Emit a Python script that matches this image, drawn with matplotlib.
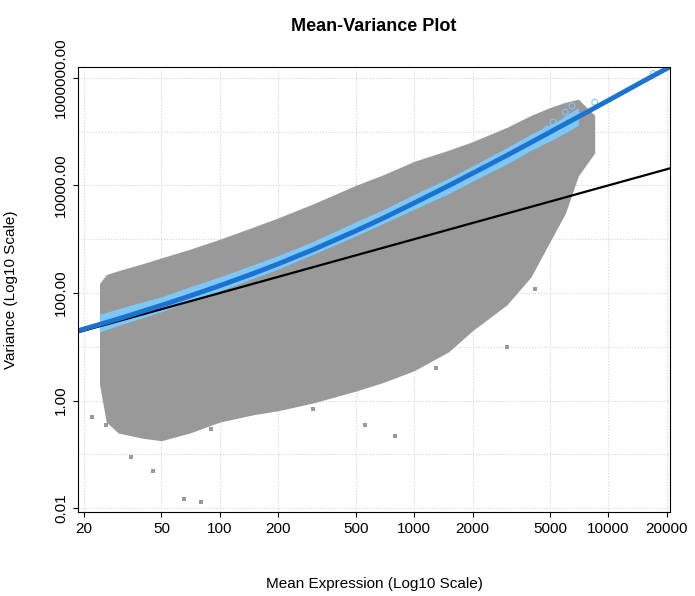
import numpy as np
import matplotlib
matplotlib.use("Agg")
import matplotlib.pyplot as plt

plt.rcParams['font.family'] = ['Liberation Sans', 'DejaVu Sans']

# gray cloud envelope
cloud_x = [24, 26, 30, 40, 50, 70, 100, 150, 200, 300, 500, 700, 1000, 1500, 2000, 3000, 4000, 5000, 6000, 7000, 8500]
cloud_lo = [2.0, 0.4, 0.25, 0.2, 0.18, 0.25, 0.4, 0.55, 0.65, 0.9, 1.5, 2.2, 3.6, 8, 20, 60, 200, 900, 3000, 15000, 40000]
cloud_hi = [150, 220, 260, 350, 450, 650, 1000, 1700, 2500, 4500, 10000, 16000, 28000, 45000, 65000, 120000, 200000, 280000, 350000, 400000, 200000]

# scattered low outliers
out_x = [65, 80, 35, 45, 800, 560, 110, 150, 28, 40, 90, 300, 1300, 3000, 4200, 22, 26]
out_y = [0.015, 0.013, 0.09, 0.05, 0.22, 0.35, 0.7, 0.9, 0.4, 0.6, 0.3, 0.7, 4, 10, 120, 0.5, 0.35]

# blue band (gene-wise fitted variances)
band_x = [24, 35, 50, 70, 100, 150, 200, 300, 500, 700, 1000, 1500, 2000, 3000, 4000, 5500, 7000]
band_lo = [19, 30, 45, 70, 110, 190, 280, 520, 1150, 2000, 3600, 7000, 12000, 25000, 45000, 80000, 130000]
band_hi = [40, 60, 85, 130, 200, 340, 500, 900, 2100, 3600, 6800, 13500, 23000, 50000, 90000, 160000, 280000]
pts_x = [6000, 6500, 7000, 8500, 17000, 5200, 4800]
pts_y = [230000, 300000, 200000, 350000, 1200000, 150000, 110000]

# fitted mean-variance curve and Poisson line
fit_x = [18.6, 20, 30, 50, 70, 100, 150, 200, 300, 500, 700, 1000, 1500, 2000, 3000, 5000, 7000, 10000, 15000, 20750]
fit_y = [19.9, 21.5, 33, 59, 88, 137, 233, 348, 633, 1425, 2500, 4700, 9800, 16800, 36000, 97500, 188000, 380000, 850000, 1600000]
pois_x = [18.6, 20750]
pois_y = [18.6, 20750]

fig = plt.figure(figsize=(6.95, 5.96), dpi=100)
ax = fig.add_axes([78/695, 1-512/596, 592/695, 445/596])
ax.set_xscale('log')
ax.set_yscale('log')

ax.fill_between(cloud_x, cloud_lo, cloud_hi, color='#999999', lw=0)
ax.scatter(out_x, out_y, s=6, color='#999999', marker='s', lw=0)
ax.fill_between(band_x, band_lo, band_hi, color='#7ec8f8', lw=0)
ax.scatter(pts_x, pts_y, s=18, facecolors='none', edgecolors='#7ec8f8', lw=0.8)
ax.plot(pois_x, pois_y, color='black', lw=1.6)
ax.plot(fit_x, fit_y, color='#1b72d0', lw=3.5)

ax.set_xlim(18.6, 20750)
ax.set_ylim(10**-2.07, 10**6.2)
xt = [20, 50, 100, 200, 500, 1000, 2000, 5000, 10000, 20000]
ax.set_xticks(xt)
ax.set_xticklabels([str(v) for v in xt])
ax.xaxis.set_minor_locator(matplotlib.ticker.NullLocator())
yt = [0.01, 1, 100, 10000, 1000000]
ax.set_yticks(yt)
ax.set_yticklabels(['%.2f' % v for v in yt], rotation=90, va='center')
ax.yaxis.set_minor_locator(matplotlib.ticker.NullLocator())
for v in xt:
    ax.axvline(v, color='#d3d3d3', ls=':', lw=0.8, zorder=0)
for v in [0.01, 0.1, 1, 10, 100, 1000, 10000, 1e5, 1e6]:
    ax.axhline(v, color='#d3d3d3', ls=':', lw=0.8, zorder=0)
ax.tick_params(labelsize=11)
ax.set_title('Mean-Variance Plot', fontsize=13, fontweight='bold', pad=26)
ax.set_xlabel('Mean Expression (Log10 Scale)', fontsize=11, labelpad=30)
ax.set_ylabel('Variance (Log10 Scale)', fontsize=11, labelpad=26)

fig.savefig('out.png', dpi=100)
